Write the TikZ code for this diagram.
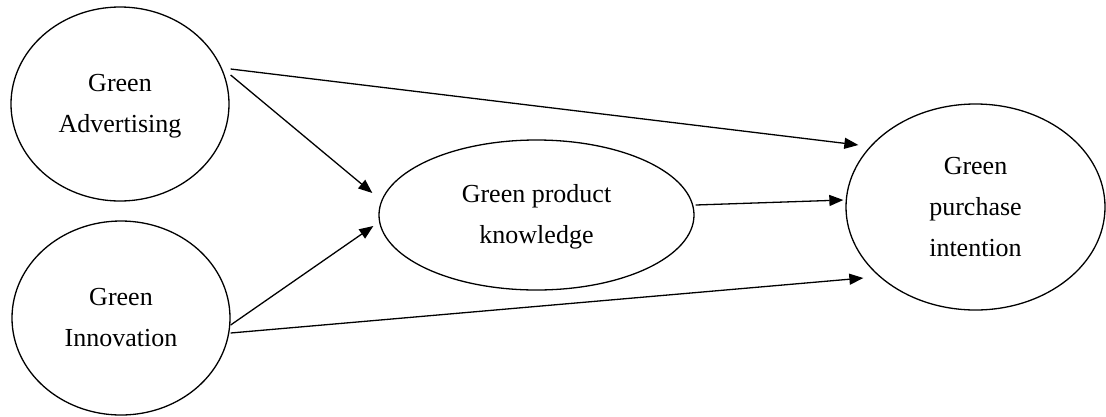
\documentclass[tikz,border=0pt]{standalone}
\usepackage{fontspec}
\setmainfont{Liberation Serif}
\usetikzlibrary{shapes.geometric,arrows.meta}
% centred lines of a construct, lifted by #1
\newcommand\nodelines[2]{\raisebox{#1}{\begin{tabular}{@{}c@{}}#2\end{tabular}}}
\begin{document}
\begin{tikzpicture}[x=1pt,y=-1pt,
  construct/.style={draw, ellipse, line width=1.3pt, inner sep=0pt,
    font=\fontsize{26}{41}\selectfont},
  link/.style={line width=1.3pt, -{Triangle[length=14pt,width=11pt]}}]
\useasboundingbox (0,0) rectangle (1106,416);

% constructs
\node[construct, minimum width=218pt, minimum height=194pt] (adv) at (120,104)
  {\nodelines{9.7pt}{Green\\Advertising}};
\node[construct, minimum width=218pt, minimum height=194pt] (inn) at (121,318)
  {\nodelines{8.7pt}{Green\\Innovation}};
\node[construct, minimum width=315pt, minimum height=150pt] (know) at (536.5,215)
  {\nodelines{2.3pt}{Green product\\knowledge}};
\node[construct, minimum width=259pt, minimum height=206pt] (pur) at (975.5,207)
  {\nodelines{3.8pt}{Green\\purchase\\intention}};

% paths
\draw[link] ([xshift=1pt,yshift=35pt]adv.east) -- ([xshift=13pt,yshift=62pt]pur.west);
\draw[link] ([xshift=1pt,yshift=29pt]adv.east) -- ([xshift=-6pt,yshift=22pt]know.west);
\draw[link] ([xshift=0pt,yshift=-7pt]inn.east) -- ([xshift=-5pt,yshift=-11pt]know.west);
\draw[link] ([xshift=0pt,yshift=-15pt]inn.east) -- ([xshift=18pt,yshift=-71pt]pur.west);
\draw[link] ([xshift=1pt,yshift=10pt]know.east) -- ([xshift=-2pt,yshift=7pt]pur.west);
\end{tikzpicture}
\end{document}
